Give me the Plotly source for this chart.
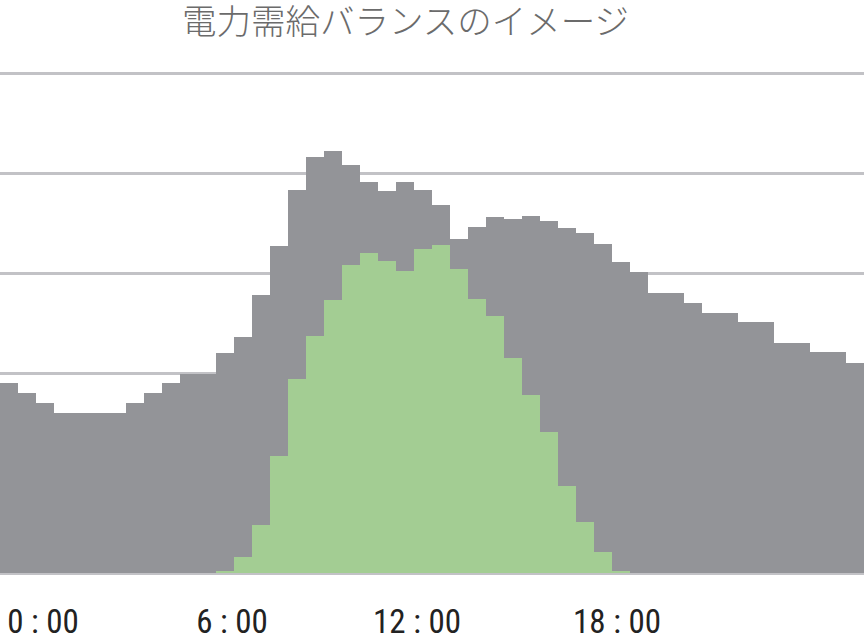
import plotly.graph_objects as go

slots = list(range(48))  # half-hour slots, 0:00 .. 23:30

demand = [1.90, 1.80, 1.70, 1.60, 1.60, 1.60, 1.60, 1.70, 1.80, 1.90,
          1.99, 1.99, 2.20, 2.36, 2.78, 3.27, 3.83, 4.16, 4.22, 4.08,
          3.91, 3.82, 3.91, 3.83, 3.68, 3.34, 3.46, 3.56, 3.54, 3.57,
          3.52, 3.45, 3.40, 3.29, 3.11, 3.01, 2.80, 2.80, 2.70, 2.60,
          2.60, 2.51, 2.51, 2.30, 2.30, 2.21, 2.21, 2.10]

solar = [0, 0, 0, 0, 0, 0, 0, 0, 0, 0,
         0, 0, 0.02, 0.16, 0.48, 1.17, 1.94, 2.37, 2.73, 3.08,
         3.20, 3.12, 3.02, 3.24, 3.28, 3.04, 2.74, 2.57, 2.15, 1.78,
         1.41, 0.87, 0.51, 0.21, 0.02, 0, 0, 0, 0, 0,
         0, 0, 0, 0, 0, 0, 0, 0]

tick_pos = [1.89, 12.39, 22.67, 33.78]
tick_text = ["0 : 00", "6 : 00", "12 : 00", "18 : 00"]

title_text = "電力需給バランスのイメージ"

fig = go.Figure()
fig.add_trace(go.Bar(x=slots, y=demand, marker=dict(color="#939498", line=dict(width=0)),
                     hoverinfo="skip"))
fig.add_trace(go.Bar(x=slots, y=solar, marker=dict(color="#a3cd93", line=dict(width=0)),
                     hoverinfo="skip"))

fig.update_layout(
    width=865, height=642,
    margin=dict(l=0, r=1, t=53, b=69, autoexpand=False),
    paper_bgcolor="white", plot_bgcolor="white",
    barmode="overlay", bargap=0,
    showlegend=False,
    title=dict(text=title_text, x=405.5 / 865, xanchor="center", y=1 - 22 / 642, yanchor="middle",
               font=dict(family="Noto Sans CJK JP", size=34.5, color="#6b6b6b", weight=300)),
)
fig.update_xaxes(range=[-0.5, 47.5], tickvals=tick_pos, ticktext=tick_text,
                 showgrid=False, zeroline=False, showline=False, ticks="",
                 ticklabelstandoff=26, automargin=False,
                 tickfont=dict(family="Liberation Sans Narrow, Roboto Condensed, DejaVu Sans Condensed, sans-serif",
                               size=33, color="#222222"))
fig.update_yaxes(range=[0, 5.2], tickvals=[0, 1, 2, 3, 4, 5], showticklabels=False,
                 showgrid=True, gridcolor="#c2c2c6", gridwidth=3, automargin=False,
                 zeroline=True, zerolinecolor="#c2c2c6", zerolinewidth=3, showline=False)

fig.write_html("out.html",
               config={"displayModeBar": False, "staticPlot": True},
               post_script="document.body.style.margin='0';document.body.style.padding='0';"
                           "document.body.style.overflow='hidden';")
